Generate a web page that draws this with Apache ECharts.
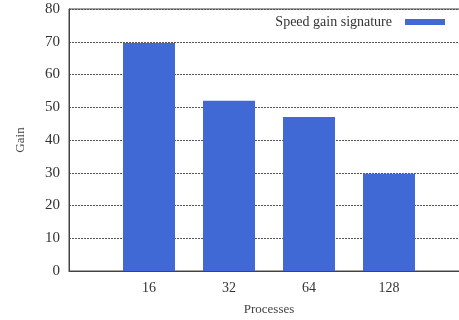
<!DOCTYPE html>
<html>
<head>
<meta charset="utf-8">
<script src="https://cdn.jsdelivr.net/npm/echarts@6/dist/echarts.min.js"></script>
<style>html,body{margin:0;padding:0;background:#fff;overflow:hidden;}#c{width:459px;height:320px;}</style>
</head>
<body>
<div id="c"></div>
<script>
const categories = ['', '16', '32', '64', '128', ''];
const gainValues = [null, 69.6, 52.0, 47.0, 29.7, null];
const seriesName = 'Speed gain signature';
const yTicks = { min: 0, max: 80, interval: 10 };

const chart = echarts.init(document.getElementById('c'), null, { renderer: 'canvas' });
const font = 'Liberation Serif';
chart.setOption({
  animation: false,
  backgroundColor: '#fff',
  grid: { left: 69, top: 9, width: 400, height: 262, outerBoundsMode: 'none', containLabel: false, show: true, borderColor: '#444', borderWidth: 1, backgroundColor: 'transparent' },
  legend: {
    right: 9, top: 10, align: 'right', itemWidth: 40, itemHeight: 6, itemGap: 10,
    textStyle: { fontFamily: font, fontSize: 14, color: '#333', padding: [0, 8, 0, 0] },
    data: [{ name: seriesName, icon: 'rect' }]
  },
  xAxis: {
    type: 'category', data: categories, boundaryGap: false,
    name: 'Processes', nameLocation: 'middle', nameGap: 32,
    nameTextStyle: { fontFamily: font, fontSize: 13, color: '#444' },
    axisLine: { lineStyle: { color: '#444' } },
    axisTick: { show: false },
    axisLabel: { fontFamily: font, fontSize: 14, color: '#333', margin: 10 },
    splitLine: { show: false }
  },
  yAxis: {
    type: 'value', min: yTicks.min, max: yTicks.max, interval: yTicks.interval,
    name: 'Gain', nameLocation: 'middle', nameGap: 42, nameRotate: 90,
    nameTextStyle: { fontFamily: font, fontSize: 13, color: '#444' },
    axisLine: { show: true, lineStyle: { color: '#444' } },
    axisTick: { show: false },
    axisLabel: { fontFamily: font, fontSize: 15, color: '#333', margin: 9 },
    splitLine: { show: true, lineStyle: { color: '#555', type: [2, 1], width: 1 } }
  },
  series: [{
    name: seriesName, type: 'bar', data: gainValues, barWidth: 52,
    itemStyle: { color: '#4169d6' }
  }]
});
</script>
</body>
</html>
